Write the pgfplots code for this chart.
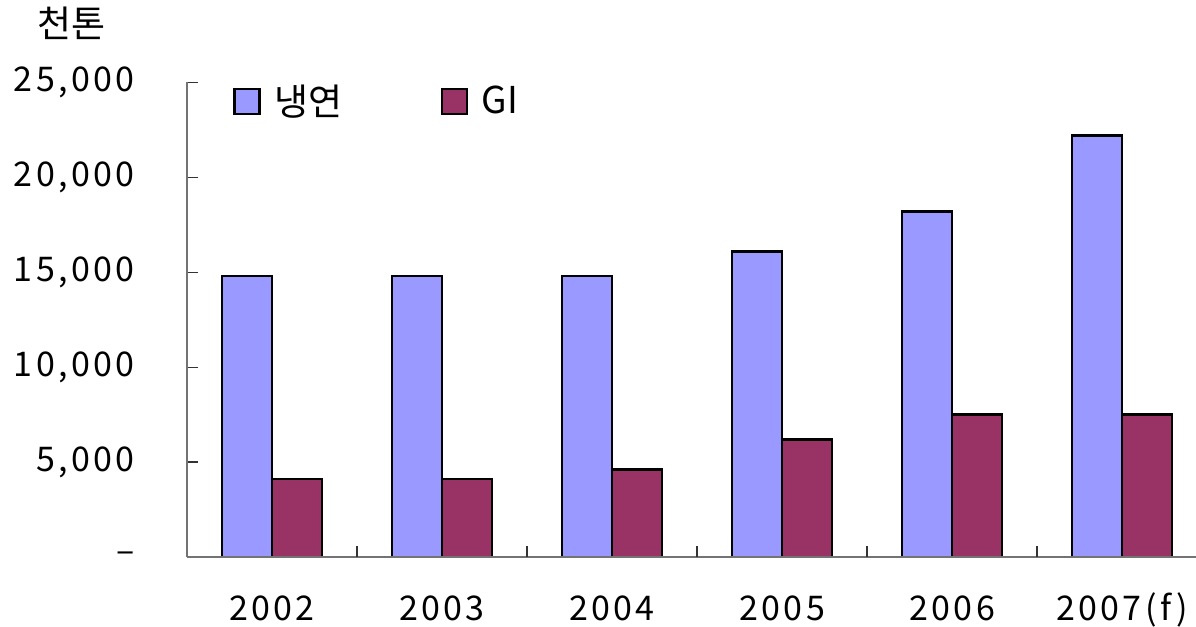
\documentclass[border=0pt]{standalone}
\usepackage{fontspec}
\setmainfont{Noto Sans CJK KR}
\newfontfamily\numfont[LetterSpace=10]{Noto Sans CJK KR}
\usepackage{pgfplots}
\pgfplotsset{compat=1.18}
\definecolor{cblue}{HTML}{9999FF}
\definecolor{cpurp}{HTML}{993366}
\begin{document}
\begin{tikzpicture}
\begin{axis}[
  scale only axis, width=504.5pt, height=237.25pt,
  xmin=-0.5, xmax=5.435, ymin=0, ymax=25000,
  axis x line*=bottom, axis y line*=left,
  axis line style={black!55, line width=0.7pt, -},
  clip=false,
  scaled y ticks=false,
  xtick={0,1,2,3,4,5},
  xticklabels={2002,2003,2004,2005,2006,2007(f)},
  major x tick style={draw=none},
  extra x ticks={0.5,1.5,2.5,3.5,4.5},
  extra x tick labels={},
  extra x tick style={major x tick style={draw=black!80, line width=0.7pt}},
  ytick={0,5000,10000,15000,20000,25000},
  yticklabels={–,{5,000},{10,000},{15,000},{20,000},{25,000}},
  major tick length=5.5pt,
  tick style={black!80, line width=0.7pt},
  tick label style={font=\fontsize{17}{20}\selectfont\numfont, inner sep=0pt},
  yticklabel style={anchor=east, xshift=-26pt},
  xticklabel style={anchor=base, yshift=-31.5pt},
  bar width=0.294,
  axis on top,
  legend columns=2,
  legend style={draw=none, fill=none, at={(rel axis cs:0,1)}, anchor=north west,
    xshift=20pt, yshift=3pt, font=\fontsize{18.5}{21}\selectfont,
    /tikz/every even column/.append style={column sep=47pt},
    /tikz/every odd column/.append style={column sep=5pt}},
  legend image code/.code={\draw[#1, draw=black, line width=1.1pt] (0pt,-6.25pt) rectangle (12.5pt,6.25pt);},
  tick align=inside, xtick align=inside, ytick align=inside,
]
\addplot[ybar, fill=cblue, draw=black, line width=1.2pt, bar shift=-0.147]
  coordinates {(0,14800) (1,14800) (2,14800) (3,16100) (4,18200) (5,22200)};
\addlegendentry{냉연}
\addplot[ybar, fill=cpurp, draw=black, line width=1.2pt, bar shift=0.147]
  coordinates {(0,4100) (1,4100) (2,4600) (3,6200) (4,7500) (5,7500)};
\addlegendentry{GI}
\coordinate (ll) at (rel axis cs:0,0);
\coordinate (ur) at (rel axis cs:1,1);
\coordinate (ul) at (rel axis cs:0,1);
\end{axis}
\node[font=\fontsize{18.5}{21}\selectfont, inner sep=0pt] at ([xshift=-57.5pt, yshift=29.75pt]ul) {천톤};
\pgfresetboundingbox
\path[use as bounding box] ([xshift=-93.5pt, yshift=-34.5pt]ll) rectangle ([yshift=41.25pt]ur);
\end{tikzpicture}
\end{document}
